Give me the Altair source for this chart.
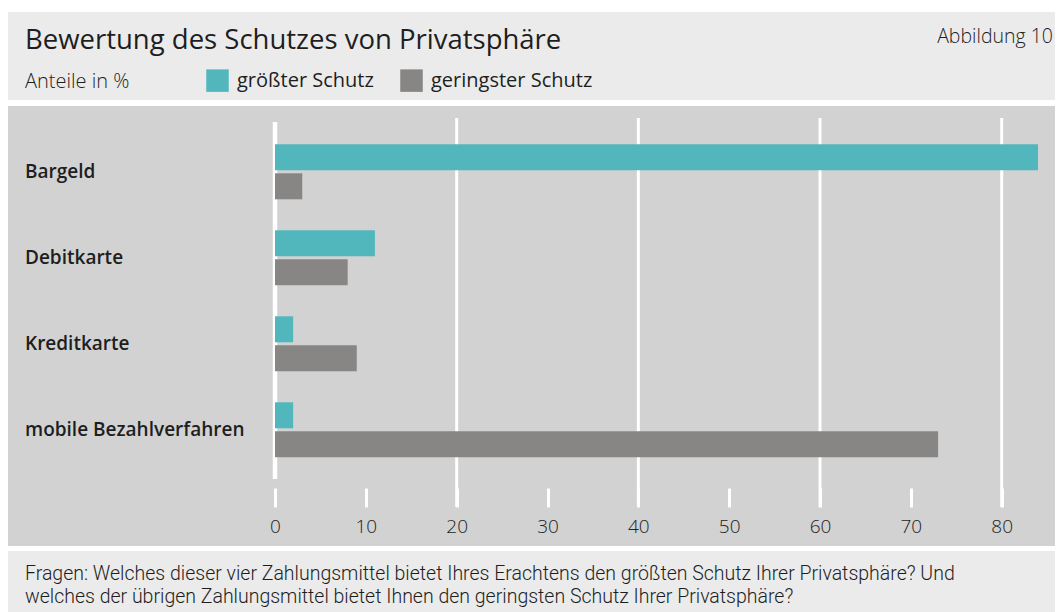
import altair as alt
import pandas as pd

categories = ["Bargeld", "Debitkarte", "Kreditkarte", "mobile Bezahlverfahren"]
series = ["größter Schutz", "geringster Schutz"]
groesster_schutz = [84, 11, 2, 2]
geringster_schutz = [3, 8, 9, 73]
x_ticks = [0, 10, 20, 30, 40, 50, 60, 70, 80]
grid_values = [20, 40, 60, 80]
title_text = "Bewertung des Schutzes von Privatsphäre"
figure_label = "Abbildung 10"
unit_label = "Anteile in %"
footer_lines = [
    "Fragen: Welches dieser vier Zahlungsmittel bietet Ihres Erachtens den größten Schutz Ihrer Privatsphäre? Und",
    "welches der übrigen Zahlungsmittel bietet Ihnen den geringsten Schutz Ihrer Privatsphäre?",
]

W, H = 1047, 604
FONT = "Open Sans"
FOOT_FONT = "Roboto"
TEAL = "#52b7bc"
GRAY = "#878684"
LIGHT = "#ebebeb"
PLOT_BG = "#d2d2d2"
TXT = "#1e1e1e"

rows = []
for i, c in enumerate(categories):
    rows.append({"cat": c, "serie": series[0], "wert": groesster_schutz[i]})
    rows.append({"cat": c, "serie": series[1], "wert": geringster_schutz[i]})
bars_df = pd.DataFrame(rows)
one = pd.DataFrame({"k": [0]})

x_scale = alt.Scale(domain=[0, 80], range=[267, 993.7], nice=False, zero=True, clamp=False)
y_scale = alt.Scale(domain=categories, range=[120.8, 464.8], paddingInner=0, paddingOuter=0)
x_axis = alt.Axis(values=x_ticks, orient="bottom", offset=480 - H, grid=False, domain=False,
                  ticks=True, tickSize=19, tickWidth=3, tickColor="white", zindex=1,
                  labelFont=FONT, labelFontSize=19, labelColor="#222222", labelFontWeight=300,
                  labelPadding=10, title=None, format="d", labelFlush=False)


def band(y0, y1, color):
    return alt.Chart(one).mark_rect(color=color).encode(
        x=alt.value(0), x2=alt.value(W + 8), y=alt.value(y0), y2=alt.value(y1))


def label(text, x, y, size, weight=400, align="left", font=FONT):
    return alt.Chart(one).mark_text(align=align, baseline="alphabetic", font=font, fontSize=size,
                                    fontWeight=weight, color=TXT).encode(
        x=alt.value(x), y=alt.value(y), text=alt.value(text))


grid = alt.Chart(pd.DataFrame({"wert": grid_values})).mark_rule(color="white", strokeWidth=3).encode(
    x=alt.X("wert:Q", scale=x_scale, axis=x_axis), y=alt.value(110), y2=alt.value(499))

zero_line = alt.Chart(pd.DataFrame({"wert": [0]})).mark_rule(color="white", strokeWidth=4.5).encode(
    x=alt.X("wert:Q", scale=x_scale, axis=x_axis), y=alt.value(114), y2=alt.value(471))

bars = alt.Chart(bars_df).mark_bar().encode(
    x=alt.X("wert:Q", scale=x_scale, axis=x_axis),
    y=alt.Y("cat:N", scale=y_scale, axis=None, sort=categories),
    yOffset=alt.YOffset("serie:N", sort=series,
                        scale=alt.Scale(domain=series, paddingInner=0.1034, paddingOuter=0.534)),
    color=alt.Color("serie:N", scale=alt.Scale(domain=series, range=[TEAL, GRAY]),
                    legend=alt.Legend(orient="none", legendX=198, legendY=61, direction="horizontal",
                                      title=None, symbolType="square", symbolSize=506,
                                      symbolStrokeWidth=0, symbolOpacity=1,
                                      labelFont=FONT, labelFontSize=20, labelColor=TXT,
                                      labelLimit=400, labelOffset=8, columnPadding=26, padding=0)),
)

cat_labels = alt.Chart(pd.DataFrame({"cat": categories})).mark_text(
    align="left", baseline="middle", font=FONT, fontSize=19, fontWeight=600, color=TXT).encode(
    y=alt.Y("cat:N", scale=y_scale, axis=None, sort=categories),
    x=alt.value(17), text="cat:N")

chart = alt.layer(
    band(4, 92, LIGHT),
    band(98, 538, PLOT_BG),
    band(543, H, LIGHT),
    grid,
    zero_line,
    bars,
    cat_labels,
    label(title_text, 17, 41, 27.5, 500),
    label(figure_label, 1045, 35, 19.5, 300, "right"),
    label(unit_label, 17, 80, 20, 300),
    label(footer_lines[0], 17, 571.5, 19.5, 300, font=FOOT_FONT),
    label(footer_lines[1], 17, 594.5, 19.5, 300, font=FOOT_FONT),
).properties(
    width=W, height=H, autosize=alt.AutoSizeParams(type="none"), padding=0, background="white"
).configure_view(strokeWidth=0)

chart.save("out.html", embed_options={"renderer": "svg", "actions": False})
